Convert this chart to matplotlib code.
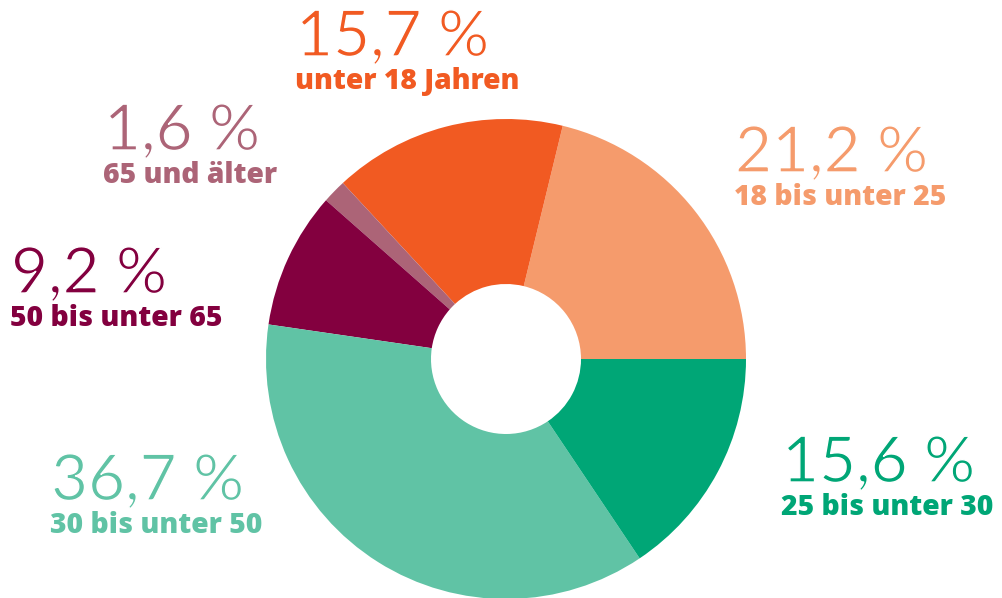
import matplotlib.pyplot as plt
import matplotlib.patheffects as pe

# data (counterclockwise from 3 o'clock)
categories = ["18 bis unter 25", "unter 18 Jahren", "65 und älter",
              "50 bis unter 65", "30 bis unter 50", "25 bis unter 30"]
shares = [21.2, 15.7, 1.6, 9.2, 36.7, 15.6]
pct_labels = ["21,2 %", "15,7 %", "1,6 %", "9,2 %", "36,7 %", "15,6 %"]
colors = ["#F59B6C", "#F15A22", "#AC6477", "#83003F", "#60C3A5", "#00A676"]

# label anchor (left x, baseline of percentage) in pixels from top-left
label_pos = [(735, 172), (296, 56), (104, 150), (11, 293), (51, 500), (782, 482)]

W, H = 1002, 598
fig = plt.figure(figsize=(W / 100, H / 100), dpi=100)
ax = fig.add_axes([0, 0, 1, 1])
ax.axis("off")

ax.pie(shares, colors=colors, startangle=0, counterclock=True,
       center=(506, H - 359), radius=240,
       wedgeprops=dict(width=240 - 75, linewidth=0))
ax.set_xlim(0, W)
ax.set_ylim(0, H)
ax.set_aspect("equal")

# thin the regular weight a little, reference uses a light cut
thin = [pe.Stroke(linewidth=1.0, foreground="white")]

for pct, cat, col, (x, y) in zip(pct_labels, categories, colors, label_pos):
    ax.text(x, H - y, pct, color=col, fontsize=46, family="Lato",
            fontweight="normal", ha="left", va="baseline", path_effects=thin)
    ax.text(x - 1, H - y - 33, cat, color=col, fontsize=20.3, family="Open Sans",
            fontweight="heavy", ha="left", va="baseline")

fig.savefig("out.png", dpi=100)
